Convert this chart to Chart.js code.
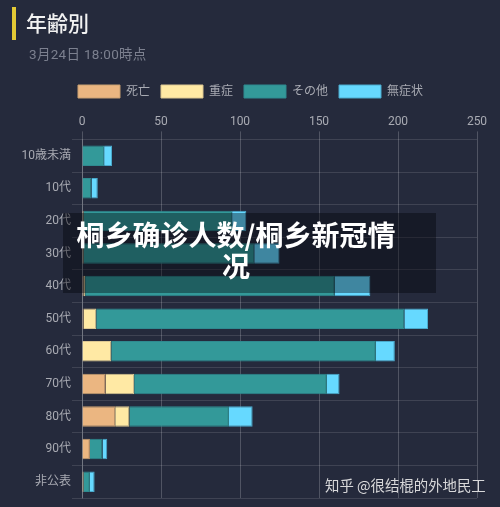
<!DOCTYPE html>
<html><head><meta charset="utf-8">
<script src="https://cdn.jsdelivr.net/npm/chart.js@4"></script>
<style>
html,body{margin:0;padding:0;background:#252a3c;width:500px;height:507px;overflow:hidden;font-family:"Noto Sans CJK JP",sans-serif}
#wrap{position:relative;width:500px;height:507px}
canvas{position:absolute;left:0;top:0}
.a{position:absolute;white-space:nowrap}
</style></head><body>
<div id="wrap">
<canvas id="c" width="500" height="507"></canvas>
<div class="a" style="left:12px;top:7px;width:4px;height:33px;background:#e3c935"></div>
<div class="a" style="left:26px;top:8px;font-size:21px;line-height:29px;font-weight:500;color:#f2f2f2">年齢別</div>
<div class="a" style="left:29px;top:45px;font-size:13.5px;letter-spacing:.3px;line-height:18px;color:#7c808f;font-family:Roboto,'Noto Sans CJK JP',sans-serif">3月24日 18:00時点</div>
<div class="a" style="left:63px;top:213px;width:373px;height:80px;background:rgba(0,0,5,0.38)"></div>
<div class="a" style="left:63px;top:219px;width:346px;white-space:normal;text-align:center;font-size:28px;line-height:31px;font-weight:700;color:#fff;font-family:'Noto Sans CJK SC',sans-serif">桐乡确诊人数/桐乡新冠情况</div>
<div class="a" style="left:325px;top:473px;font-size:14.4px;line-height:24px;color:#d8d8da;font-family:'Noto Sans CJK SC',sans-serif">知乎 @很结棍的外地民工</div>
</div>
<script>
const categories = ["10歳未満","10代","20代","30代","40代","50代","60代","70代","80代","90代","非公表"];
const deaths = [0,0,0,0,1,1,0,15,21,5,0];
const severe = [0,0,1,1,1,8,18.5,18,9,0,1];
const others = [14,6,94,108,158,195,167.5,122,63,8,4];
const asymptomatic = [5,4,9,16,22.5,15,12,8,15,3,3];
const seriesNames = ["死亡","重症","その他","無症状"];
const xTicks = [0,50,100,150,200,250];
const fillColors = ["#ebb681","#ffe9a4","#339999","#66d9ff"];
const edgeColors = ["#c9a072","#dcc792","#2f8a90","#4aa9cc"];
const seriesValues = [deaths,severe,others,asymptomatic];
const textColor = "#a9abb3";
const font = {family:"Roboto,'Noto Sans CJK JP',sans-serif",size:12};
const legendShift = {id:"legendShift",afterLayout(chart){chart.legend.left+=12;chart.legend.right+=12;}};
new Chart(document.getElementById("c"),{
  type:"bar",
  plugins:[legendShift],
  data:{labels:categories,datasets:seriesNames.map((n,i)=>({
    label:n,data:seriesValues[i],backgroundColor:fillColors[i],borderColor:edgeColors[i],
    borderWidth:1,categoryPercentage:1,barPercentage:0.63}))},
  options:{
    indexAxis:"y",responsive:false,animation:false,
    layout:{padding:{top:74,right:23,bottom:9,left:0}},
    plugins:{
      tooltip:{enabled:false},
      legend:{position:"top",align:"center",
        labels:{boxWidth:42,boxHeight:13,padding:11,color:textColor,font:font}}
    },
    scales:{
      x:{position:"top",stacked:true,min:0,max:250,
        afterBuildTicks(a){a.ticks=xTicks.map(v=>({value:v}));},
        afterFit(a){a.height+=5;},
        ticks:{color:textColor,font:font,padding:2,maxRotation:0},
        grid:{color:"rgba(255,255,255,0.2)",tickLength:8,drawTicks:true},
        border:{display:false}},
      y:{stacked:true,
        afterFit(a){a.width=82;},
        ticks:{color:textColor,font:font,padding:1},
        grid:{color:c=>c.index===categories.length?"rgba(0,0,0,0)":"rgba(255,255,255,0.12)",tickLength:10},
        border:{display:true,color:"rgba(255,255,255,0.2)"}}
    }
  }
});
</script>
</body></html>
